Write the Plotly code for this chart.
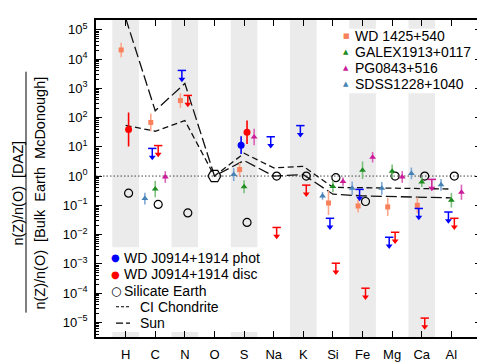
import numpy as np
import plotly.graph_objects as go

# ---------------- data ----------------
elements = ["H", "C", "N", "O", "S", "Na", "K", "Si", "Fe", "Mg", "Ca", "Al"]
banded = ["H", "N", "S", "K", "Fe", "Ca"]

# WD J0914+1914 photosphere (blue)
phot_det_el = ["S"]
phot_det_val = [11.4]
phot_det_err = [0.30]
phot_lim_el = ["C", "N", "Na", "K", "Si", "Fe", "Mg", "Ca", "Al"]
phot_lim_val = [8.8, 4070, 22, 53, 0.036, 0.35, 0.0081, 0.078, 0.059]

# WD J0914+1914 disc (red)
disc_det_el = ["H", "S"]
disc_det_val = [39, 31.6]
disc_det_err = [0.58, 0.40]
disc_lim_el = ["C", "N", "Na", "K", "Si", "Fe", "Mg", "Ca", "Al"]
disc_lim_val = [11, 570, 0.0175, 0.49, 0.00105, 1.47e-4, 0.012, 1.4e-5, 0.036]

# Silicate Earth (open circles)
sil_el = ["H", "C", "N", "S", "Na", "K", "Si", "Fe", "Mg", "Ca", "Al"]
sil_val = [0.26, 0.107, 0.055, 0.026, 1.0, 1.0, 0.88, 0.135, 1.0, 1.0, 1.0]
ref_el = ["O"]
ref_val = [1.0]

# CI chondrite and Sun
ci_val = [54, 34, 79, 1.0, 6.0, 1.9, 2.15, 0.41, 0.40, 0.39, 0.38, 0.36]
sun_val = [2.5e5, 170, 1470, 1.0, 3.4, 1.0, 1.12, 0.24, 0.21, 0.20, 0.19, 0.18]

# other DAZ white dwarfs
wd1425_el = ["H", "C", "N", "S", "Si", "Fe", "Mg", "Ca"]
wd1425_val = [20400, 68, 380, 1.67, 0.12, 0.095, 0.088, 0.10]
wd1425_err = [0.25, 0.30, 0.25, 0.23, 0.41, 0.22, 0.31, 0.27]

galex_el = ["C", "S", "Si", "Fe", "Mg", "Ca", "Al"]
galex_val = [0.36, 0.43, 0.44, 1.58, 1.47, 0.63, 0.15]
galex_err = [0.28, 0.22, 0.20, 0.30, 0.23, 0.17, 0.25]

pg_el = ["C", "S", "Si", "Fe", "Mg", "Al"]
pg_val = [0.93, 21.5, 0.65, 4.4, 0.93, 0.28]
pg_err = [0.20, 0.28, 0.14, 0.18, 0.20, 0.26]
pg_lim_el = ["Ca"]
pg_lim_val = [0.77]

sdss_el = ["C", "S", "Si", "Fe", "Mg", "Ca", "Al"]
sdss_val = [0.17, 1.12, 0.21, 0.38, 0.38, 1.23, 0.50]
sdss_err = [0.20, 0.22, 0.13, 0.23, 0.22, 0.20, 0.20]

y_ticks = [1e-5, 1e-4, 1e-3, 1e-2, 1e-1, 1e0, 1e1, 1e2, 1e3, 1e4, 1e5]
y_ticktext = ["10<sup>−5</sup>", "10<sup>−4</sup>", "10<sup>−3</sup>", "10<sup>−2</sup>",
              "10<sup>−1</sup>", "10<sup>0</sup>", "10<sup>1</sup>", "10<sup>2</sup>",
              "10<sup>3</sup>", "10<sup>4</sup>", "10<sup>5</sup>"]

# ---------------- style ----------------
C_BLUE, C_RED = "#0000FF", "#FF0000"
C_SALMON, C_SALMON_E = "#F8805A", "#FBA78A"
C_GREEN, C_GREEN_E = "#1E8C1E", "#7CC07C"
C_MAG, C_MAG_E = "#CC1A99", "#DA62B8"
C_STEEL, C_STEEL_E = "#4682B4", "#7FA9D6"
FONT = "Liberation Sans"

W, H = 485, 364
X0, X1, Y0, Y1 = 88, 473, 10, 335   # plot area in px
YR = [-5.5, 5.333]
XR = [0, 13]


def px(x):
    return (x - X0) / (X1 - X0)


def py(y):
    return (Y1 - y) / (Y1 - Y0)


pos = {e: i + 1 for i, e in enumerate(elements)}
fig = go.Figure()


def xs(els, off):
    return [pos[e] + off for e in els]


def detections(els, vals, errs, off, color, ecolor, symbol, size):
    v = np.array(vals, float)
    e = np.array(errs, float)
    fig.add_trace(go.Scatter(
        x=xs(els, off), y=vals, mode="markers", showlegend=False,
        marker=dict(symbol=symbol, size=size, color=color, line=dict(width=0)),
        error_y=dict(type="data", symmetric=False, array=v * (10 ** e - 1),
                     arrayminus=v * (1 - 10 ** -e), color=ecolor, thickness=1.6, width=0)))


def limits(els, vals, off, color):
    v = np.array(vals, float)
    drop = 0.30
    fig.add_trace(go.Scatter(
        x=xs(els, off), y=vals, mode="markers", showlegend=False,
        marker=dict(symbol="line-ew", size=6, color=color, line=dict(width=1.5, color=color)),
        error_y=dict(type="data", symmetric=False, array=np.zeros(len(v)),
                     arrayminus=v * (1 - 10 ** -drop), color=color, thickness=1.5, width=0)))
    fig.add_trace(go.Scatter(
        x=xs(els, off), y=v * 10 ** -drop, mode="markers", showlegend=False,
        marker=dict(symbol="triangle-down", size=6, color=color, line=dict(width=0))))


# reference lines
fig.add_trace(go.Scatter(x=xs(elements, 0), y=ci_val, mode="lines", showlegend=False,
                         line=dict(color="#111111", width=1.3, dash="6px,3.5px")))
fig.add_trace(go.Scatter(x=xs(elements, 0), y=sun_val, mode="lines", showlegend=False,
                         line=dict(color="#111111", width=1.3, dash="11px,4px")))
fig.add_trace(go.Scatter(x=xs(ref_el, 0), y=ref_val, mode="markers", showlegend=False,
                         marker=dict(symbol="hexagon2-open", size=13, color="black",
                                     line=dict(width=1.2, color="black"))))
fig.add_trace(go.Scatter(x=xs(sil_el, 0.1), y=sil_val, mode="markers", showlegend=False,
                         marker=dict(symbol="circle-open", size=8, color="black",
                                     line=dict(width=1.2, color="black"))))

detections(wd1425_el, wd1425_val, wd1425_err, -0.15, C_SALMON, C_SALMON_E, "square", 5)
detections(galex_el, galex_val, galex_err, 0.0, C_GREEN, C_GREEN_E, "triangle-up", 6)
detections(pg_el, pg_val, pg_err, 0.34, C_MAG, C_MAG_E, "triangle-up", 6)
limits(pg_lim_el, pg_lim_val, 0.34, C_MAG)
detections(sdss_el, sdss_val, sdss_err, -0.35, C_STEEL, C_STEEL_E, "triangle-up", 6)

detections(phot_det_el, phot_det_val, phot_det_err, -0.1, C_BLUE, C_BLUE, "circle", 7)
limits(phot_lim_el, phot_lim_val, -0.1, C_BLUE)
detections(disc_det_el, disc_det_val, disc_det_err, 0.1, C_RED, C_RED, "circle", 7)
limits(disc_lim_el, disc_lim_val, 0.1, C_RED)

# ---------------- shapes ----------------
shapes = []
for e in banded:
    shapes.append(dict(type="rect", xref="x", yref="paper", x0=pos[e] - 0.45, x1=pos[e] + 0.45,
                       y0=0, y1=1, fillcolor="#EBEBEB", line=dict(width=0), layer="below"))
# legend backgrounds
shapes.append(dict(type="rect", xref="paper", yref="paper", x0=0, x1=px(252), y0=py(330), y1=py(243),
                   fillcolor="white", line=dict(width=0), layer="below"))
shapes.append(dict(type="rect", xref="paper", yref="paper", x0=px(336), x1=1, y0=py(85), y1=py(19),
                   fillcolor="white", line=dict(width=0), layer="below"))
# dotted unity line
yone = (0 - YR[0]) / (YR[1] - YR[0])
shapes.append(dict(type="line", xref="paper", yref="paper", x0=0, x1=1, y0=yone, y1=yone,
                   line=dict(color="#444444", width=1, dash="1.5px,2px"), layer="below"))
# y-title fraction bar
shapes.append(dict(type="line", xref="paper", yref="paper", x0=px(18), x1=px(18), y0=py(310), y1=py(63),
                   line=dict(color="black", width=1)))
# legend line glyphs
shapes.append(dict(type="line", xref="paper", yref="paper", x0=px(108), x1=px(121), y0=py(304), y1=py(304),
                   line=dict(color="black", width=1.2, dash="3px,2px")))
shapes.append(dict(type="line", xref="paper", yref="paper", x0=px(108), x1=px(122), y0=py(320.7), y1=py(320.7),
                   line=dict(color="black", width=1.2, dash="7px,3px")))

# ---------------- annotations ----------------
ann = []


def glyph(x, y, ch, color, size):
    ann.append(dict(xref="paper", yref="paper", x=px(x), y=py(y), text=ch, showarrow=False,
                    xanchor="center", yanchor="middle",
                    font=dict(family="DejaVu Sans", size=size, color=color)))


def label(x, y, txt):
    ann.append(dict(xref="paper", yref="paper", x=px(x), y=py(y), text=txt, showarrow=False,
                    xanchor="left", yanchor="middle", font=dict(family=FONT, size=14, color="black")))


top_rows = [("WD 1425+540", "■", C_SALMON, 7), ("GALEX1913+0117", "▲", C_GREEN, 7),
            ("PG0843+516", "▲", C_MAG, 7), ("SDSS1228+1040", "▲", C_STEEL, 7)]
for (txt, ch, col, sz), yy in zip(top_rows, [26, 42.5, 59, 75.7]):
    glyph(338.3, yy, ch, col, sz)
    label(345, yy, txt)

bot_rows = [("WD J0914+1914 phot", "●", C_BLUE, 10), ("WD J0914+1914 disc", "●", C_RED, 10),
            ("Silicate Earth", "○", "black", 12)]
for (txt, ch, col, sz), yy in zip(bot_rows, [254, 270.7, 287.7]):
    glyph(107.5, yy, ch, col, sz)
    label(114, yy, txt)
label(129.5, 304, "CI Chondrite")
label(129.5, 320.7, "Sun")

# y-axis title as fraction
ann.append(dict(xref="paper", yref="paper", x=px(10), y=py(188), text="n(Z)/n(O)  [DAZ]",
                showarrow=False, textangle=-90, xanchor="center", yanchor="middle",
                font=dict(family=FONT, size=14.5, color="black")))
ann.append(dict(xref="paper", yref="paper", x=px(32), y=py(188),
                text="n(Z)/n(O)  [Bulk  Earth  McDonough]",
                showarrow=False, textangle=-90, xanchor="center", yanchor="middle",
                font=dict(family=FONT, size=14.5, color="black")))

minor_vals = [k * 10.0 ** p for p in range(-6, 6) for k in range(2, 10)]

fig.update_layout(
    width=W, height=H, margin=dict(l=X0, r=W - X1, t=Y0, b=H - Y1),
    paper_bgcolor="white", plot_bgcolor="white",
    shapes=shapes, annotations=ann, showlegend=False,
    font=dict(family=FONT, size=13, color="black"),
    xaxis=dict(range=XR, tickmode="array", tickvals=xs(elements, 0), ticktext=elements,
               showgrid=False, zeroline=False, showline=True, linecolor="black", linewidth=1.5,
               mirror="ticks", ticks="inside", ticklen=6, tickwidth=1.2, tickcolor="black",
               tickfont=dict(family=FONT, size=13), ticklabelstandoff=5),
    yaxis=dict(type="log", range=YR, tickmode="array", tickvals=y_ticks, ticktext=y_ticktext,
               showgrid=False, zeroline=False, showline=True, linecolor="black", linewidth=1.5,
               mirror="ticks", ticks="inside", ticklen=6, tickwidth=1.2, tickcolor="black",
               tickfont=dict(family=FONT, size=13), ticklabelstandoff=4,
               minor=dict(tickmode="array", tickvals=minor_vals, ticks="inside", ticklen=3,
                          tickwidth=1, tickcolor="black", showgrid=False)),
)

fig.write_html("out.html")
